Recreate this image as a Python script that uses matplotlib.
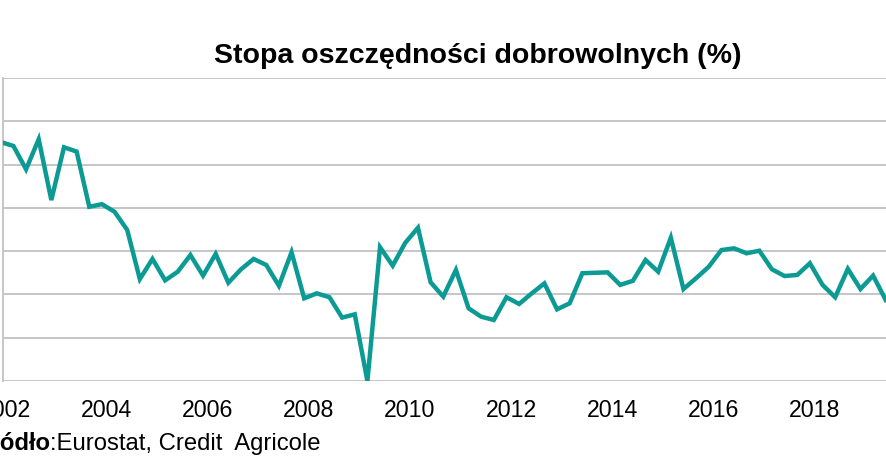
import numpy as np
import matplotlib
matplotlib.use("Agg")
import matplotlib.pyplot as plt

plt.rcParams['font.family'] = ['Liberation Sans', 'DejaVu Sans']

# quarterly data, first visible quarter around end of 2001
start_year = 2001.91
savings_rate = [9.04, 8.86, 7.78, 9.17, 6.36, 8.80, 8.60, 6.05, 6.17, 5.82,
                4.98, 2.71, 3.64, 2.65, 3.05, 3.82, 2.87, 3.87, 2.54, 3.16,
                3.64, 3.36, 2.40, 3.95, 1.82, 2.05, 1.87, 0.93, 1.08, -2.00,
                4.18, 3.33, 4.39, 5.08, 2.56, 1.90, 3.13, 1.36, 0.97, 0.82,
                1.87, 1.56, 2.05, 2.51, 1.31, 1.59, 2.98, 3.00, 3.02, 2.44,
                2.63, 3.59, 3.05, 4.62, 2.25, 2.75, 3.28, 4.05, 4.13, 3.90,
                4.02, 3.16, 2.85, 2.90, 3.44, 2.44, 1.87, 3.18, 2.25, 2.87,
                1.74]
year_ticks = [2002, 2004, 2006, 2008, 2010, 2012, 2014, 2016, 2018]
y_grid = [-2, 0, 2, 4, 6, 8, 10, 12]

x = start_year + 0.25 * np.arange(len(savings_rate))

fig = plt.figure(figsize=(8.86, 4.66), dpi=100)
# plot area is cropped on the left and right like the source image
ax = fig.add_axes([3.3 / 886, 85 / 466, 896.7 / 886, 303 / 466])

ax.plot(x, savings_rate, color='#0b9a94', lw=3.2, solid_joinstyle='miter', zorder=3)

ax.set_xlim(2001.96, 2001.96 + 896.7 / 50.57)
ax.set_ylim(-2, 12)
ax.set_yticks(y_grid)
ax.set_yticklabels([])
ax.set_xticks(year_ticks)
ax.set_xticklabels([str(y) for y in year_ticks], fontsize=16.7)
ax.tick_params(axis='both', length=0)
ax.tick_params(axis='x', pad=13)
ax.grid(axis='y', color='#c6c6c6', lw=1.4)

for side in ['top', 'right', 'bottom']:
    ax.spines[side].set_visible(False)
ax.spines['left'].set_color('#c6c6c6')
ax.spines['left'].set_linewidth(1.4)

fig.text(477.5 / 886, 1 - 56 / 466, 'Stopa oszczędności dobrowolnych (%)',
         ha='center', va='center', fontsize=20.5, fontweight='bold')

src_x = 50.5 / 886
src_y = 1 - 450 / 466
fig.text(src_x, src_y, 'Źródło', ha='right', va='baseline', fontsize=17.2, fontweight='bold')
fig.text(src_x, src_y, ':Eurostat, Credit  Agricole', ha='left', va='baseline', fontsize=17.2)

fig.savefig('out.png', dpi=100)
